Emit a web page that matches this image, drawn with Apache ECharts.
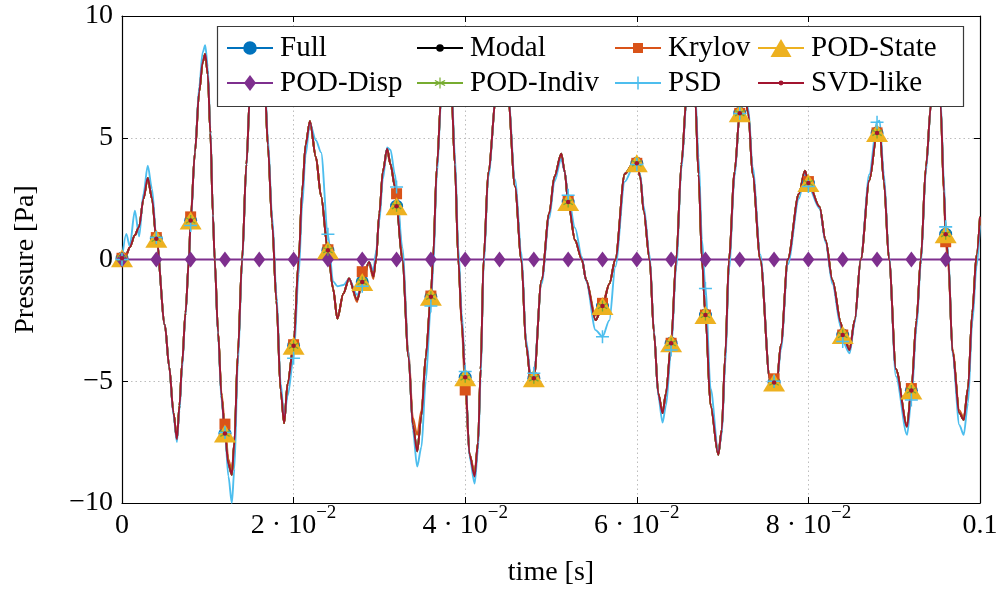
<!DOCTYPE html>
<html>
<head>
<meta charset="utf-8">
<script src="https://cdn.jsdelivr.net/npm/echarts@6/dist/echarts.min.js"></script>
<style>html,body{margin:0;padding:0;background:#fff}#c{width:1001px;height:592px}</style>
</head>
<body>
<div id="c"></div>
<script>
// ---- data ----
const time = [
  0, 0.0005, 0.0009, 0.0015, 0.002, 0.0025, 0.003, 0.0035, 0.004, 0.005,
  0.0055, 0.006, 0.0064, 0.0067, 0.007, 0.0074, 0.0078, 0.008, 0.0085, 0.009,
  0.0094, 0.0097, 0.01, 0.0103, 0.0106, 0.0108, 0.0112, 0.0116, 0.012, 0.0124,
  0.0128, 0.0131, 0.0135, 0.014, 0.0145, 0.0149, 0.0154, 0.0158, 0.016, 0.0163,
  0.0167, 0.017, 0.0175, 0.018, 0.0185, 0.0189, 0.0193, 0.02, 0.0206, 0.021,
  0.0214, 0.0219, 0.0226, 0.0232, 0.024, 0.0246, 0.0251, 0.0258, 0.02646, 0.0274,
  0.028, 0.0288, 0.0293, 0.0296, 0.03, 0.0304, 0.0309, 0.0313, 0.0318, 0.032,
  0.03267, 0.0334, 0.0339, 0.0344, 0.0349, 0.0354, 0.036, 0.03625, 0.0367, 0.0372,
  0.0378, 0.0384, 0.0388, 0.0392, 0.0396, 0.04, 0.0405, 0.0411, 0.0415, 0.0418,
  0.04215, 0.0427, 0.0436, 0.044, 0.0444, 0.045, 0.0458, 0.04655, 0.0471, 0.0477,
  0.048, 0.0489, 0.0498, 0.0504, 0.0512, 0.0516, 0.052, 0.0528, 0.0536, 0.0541,
  0.0552, 0.056, 0.0568, 0.0575, 0.0586, 0.0597, 0.06, 0.0604, 0.0608, 0.0615,
  0.062, 0.0625, 0.063, 0.0634, 0.064, 0.0646, 0.0652, 0.0658, 0.0663, 0.0668,
  0.0672, 0.0676, 0.068, 0.0686, 0.0695, 0.0699, 0.0703, 0.07075, 0.0714, 0.072,
  0.0725, 0.073, 0.0735, 0.0744, 0.0755, 0.076, 0.0763, 0.0768, 0.0776, 0.0789,
  0.0796, 0.08, 0.0813, 0.082, 0.0828, 0.0838, 0.084, 0.0848, 0.0854, 0.0861,
  0.0871, 0.088, 0.0883, 0.0888, 0.0894, 0.0902, 0.0915, 0.092, 0.0926, 0.0931,
  0.0937, 0.0943, 0.0949, 0.0954, 0.0958, 0.096, 0.0963, 0.0968, 0.0976, 0.0981,
  0.0986, 0.0991, 0.0996, 0.1
];
const full = [
  0.05, 0.2, 0.5, 1.0, 1.35, 2.5, 3.35, 2.5, 0.85, -2.7,
  -4.4, -6.3, -7.38, -6.0, -4.3, -2.2, 0, 1.6, 4.4, 6.9,
  8.1, 8.44, 7.6, 5.2, 1.8, 0, -3.0, -5.6, -7.15, -8.4,
  -8.84, -7.5, -3.9, 0, 3.9, 6.7, 8.6, 9.0, 8.9, 8.2,
  6.67, 4.7, 1.5, -1.7, -5.4, -6.72, -5.1, -3.54, 0, 2.8,
  4.7, 5.68, 4.2, 2.6, 0.38, -1.2, -2.43, -1.4, -0.78, -1.67,
  -0.92, -0.1, -0.71, 0, 1.9, 3.6, 4.55, 3.9, 3.0, 2.19,
  0, -4.0, -6.8, -7.88, -6.4, -4.0, -1.53, 0, 3.8, 6.67,
  8.6, 6.9, 3.9, 0, -2.6, -4.84, -8.0, -8.9, -7.5, -4.5,
  0, 3.6, 6.67, 8.0, 8.2, 6.67, 3.0, 0, -3.5, -5.15,
  -4.88, -0.85, 1.9, 3.4, 4.34, 3.6, 2.36, 0.79, 0, -0.85,
  -2.49, -1.91, -1.0, 0, 3.52, 4.0, 3.95, 3.4, 2.0, 0,
  -3.0, -5.5, -6.31, -5.5, -3.44, 0, 3.9, 6.67, 7.8, 6.67,
  3.5, 0, -2.28, -6.0, -8.02, -7.0, -4.0, 0, 3.6, 6.01,
  6.9, 6.0, 3.5, 0, -4.9, -5.05, -5.1, -3.5, 0, 2.7,
  3.65, 3.14, 2.16, 0.79, -0.85, -2.62, -3.1, -3.72, -2.49, 0,
  3.25, 5.2, 5.35, 3.2, 0, -4.5, -6.86, -5.38, -2.5, 0,
  3.8, 6.4, 7.3, 6.4, 2.8, 1.04, 0, -3.8, -6.3, -6.58,
  -5.3, -2.2, 0.2, 1.75
];
const psd = [
  0, 1.05, 0.55, 2.0, 0.95, 2.7, 3.85, 2.9, 0.9, -2.7,
  -4.4, -6.4, -7.5, -6.2, -4.5, -2.3, 0, 1.4, 4.4, 7.1,
  8.5, 8.8, 7.9, 5.4, 1.9, 0, -3.1, -5.8, -7.1, -8.9,
  -10.0, -8.6, -4.3, -0.2, 3.8, 6.7, 8.8, 9.2, 9.1, 8.4,
  6.9, 5.0, 1.8, -1.4, -5.1, -6.5, -5.6, -4.06, -0.6, 2.2,
  4.3, 5.6, 4.9, 4.4, 1.04, -0.9, -1.1, -1.05, -0.8, -1.45,
  -1.1, -0.1, -0.45, 0.3, 1.6, 3.3, 4.6, 4.5, 3.5, 2.98,
  0.5, -3.8, -7.0, -8.5, -7.7, -5.0, -1.91, -0.5, 3.5, 6.5,
  8.7, 7.2, 4.3, 0.5, -2.2, -4.6, -8.1, -9.2, -7.8, -4.9,
  -0.3, 3.4, 6.7, 8.0, 8.3, 6.8, 3.3, 0.3, -3.3, -4.95,
  -4.67, -1.0, 1.7, 3.2, 4.14, 3.6, 2.64, 1.3, 0.1, -0.9,
  -2.9, -3.17, -2.5, -0.3, 3.2, 3.9, 3.9, 3.5, 2.2, 0.2,
  -2.9, -5.6, -6.7, -6.0, -3.72, -0.3, 3.7, 6.5, 7.8, 6.9,
  4.2, 0.8, -1.19, -5.3, -7.9, -7.2, -4.4, -0.4, 3.4, 6.0,
  6.9, 6.2, 3.8, 0.2, -4.9, -5.0, -5.2, -3.7, -0.2, 2.5,
  3.5, 3.0, 2.1, 0.7, -1.0, -2.8, -3.37, -3.85, -2.6, 0,
  3.5, 5.64, 5.7, 3.5, 0.1, -4.8, -7.2, -5.77, -2.8, -0.2,
  3.6, 6.4, 7.4, 6.6, 3.2, 1.34, 0.3, -3.9, -6.8, -7.2,
  -5.9, -2.6, -0.3, 1.4
];
const krylov = [
  0.05, 0.2, 0.5, 1.0, 1.35, 2.5, 3.35, 2.5, 0.9, -2.7,
  -4.4, -6.3, -7.38, -6.0, -4.3, -2.2, 0, 1.75, 4.4, 6.9,
  8.1, 8.44, 7.6, 5.2, 1.8, 0, -3.0, -5.5, -6.76, -8.2,
  -8.7, -7.5, -3.9, 0, 3.9, 6.7, 8.6, 9.0, 8.9, 8.2,
  6.67, 4.7, 1.5, -1.7, -5.4, -6.72, -5.1, -3.5, 0, 2.8,
  4.7, 5.68, 4.2, 2.6, 0.4, -1.2, -2.43, -1.4, -0.78, -1.75,
  -0.5, -0.2, -0.8, 0, 1.9, 3.6, 4.4, 3.9, 3.1, 2.7,
  0.2, -3.8, -6.5, -7.2, -6.2, -4.0, -1.5, 0, 3.8, 6.67,
  8.6, 6.9, 3.9, 0, -2.8, -5.36, -8.0, -8.7, -7.5, -4.5,
  0, 3.6, 6.67, 8.0, 8.2, 6.67, 3.0, 0, -3.5, -5.1,
  -4.9, -0.85, 1.9, 3.4, 4.3, 3.6, 2.4, 0.79, 0, -0.85,
  -2.3, -1.8, -1.0, 0, 3.52, 4.0, 3.95, 3.4, 2.0, 0,
  -3.0, -5.5, -6.3, -5.5, -3.44, 0, 3.9, 6.67, 7.8, 6.67,
  3.5, 0, -2.28, -6.0, -7.9, -7.0, -4.0, 0, 3.6, 6.0,
  6.9, 6.0, 3.5, 0, -4.9, -4.9, -5.0, -3.5, 0, 2.7,
  3.65, 3.2, 2.16, 0.79, -0.85, -2.6, -3.1, -3.6, -2.5, 0,
  3.25, 5.2, 5.35, 3.2, 0, -4.5, -6.8, -5.3, -2.5, 0,
  3.8, 6.4, 7.3, 6.4, 2.6, 0.73, -0.3, -3.7, -6.2, -6.5,
  -5.3, -2.2, 0.2, 1.75
];
// read as indistinguishable from Full at this resolution
const modal = full;
const podState = full;
const podIndiv = full;
const svdLike = full;
const podDispTime = [0, 0.004, 0.008, 0.012, 0.016, 0.02, 0.024, 0.028, 0.032, 0.036, 0.04, 0.044, 0.048,
  0.052, 0.056, 0.06, 0.064, 0.068, 0.072, 0.076, 0.08, 0.084, 0.088, 0.092, 0.096, 0.1];
const podDisp = [0, 0, 0, 0, 0, 0, 0, 0, 0, 0, 0, 0, 0, 0, 0, 0, 0, 0, 0, 0, 0, 0, 0, 0, 0, 0];
const yTicks = [-10, -5, 0, 5, 10];
const xTicks = [0, 0.02, 0.04, 0.06, 0.08, 0.1];

// ---- styling ----
const FONT = '"Liberation Serif", "DejaVu Serif", serif';
const FS = 28;
const C = {
  full: '#0072BD', modal: '#000000', krylov: '#D95319', podState: '#EDB120',
  podDisp: '#7E2F8E', podIndiv: '#77AC30', psd: '#4DBEEE', svd: '#A2142F'
};
const PLUS = 'path://M-0.7,-6 L0.7,-6 L0.7,-0.7 L6,-0.7 L6,0.7 L0.7,0.7 L0.7,6 L-0.7,6 L-0.7,0.7 L-6,0.7 L-6,-0.7 L-0.7,-0.7 Z';
const AST = 'path://M-0.6,-5 L0.6,-5 L0.6,5 L-0.6,5 Z M4.03,-3.02 L4.63,-1.98 L-4.03,3.02 L-4.63,1.98 Z M-4.63,-1.98 L-4.03,-3.02 L4.63,1.98 L4.03,3.02 Z';

function isMark(t) {
  const k = t / 0.004;
  return Math.abs(k - Math.round(k)) < 1e-6 && t < 0.0999;
}
function mk(name, xs, ys, color, symbol, size) {
  return {
    type: 'line', name,
    data: xs.map((t, i) => ({ value: [t, ys[i]], symbol: isMark(t) ? symbol : 'none', symbolSize: size })),
    symbol, symbolSize: size, showSymbol: true, showAllSymbol: true, symbolKeepAspect: false,
    smooth: 0.3, smoothMonotone: 'x',
    lineStyle: { color, width: 1.9 },
    itemStyle: { color, borderWidth: 0 },
    emphasis: { disabled: true },
    animation: false, clip: true, z: 2
  };
}

// legend icons: line + marker in a 46x20 box (all sub-paths clockwise)
const LW = 46, LH = 20;
const anchor = ' M0,0 L0.01,0 L0.01,0.01 Z M46,20 L45.99,20 L45.99,19.99 Z';
const line = 'M0,9.1 L46,9.1 L46,10.9 L0,10.9 Z';
function circ(r) { return ` M${23 - r},10 A${r},${r} 0 1,1 ${23 + r},10 A${r},${r} 0 1,1 ${23 - r},10 Z`; }
const ICON = {
  'Full': 'path://' + line + circ(6.8) + anchor,
  'Modal': 'path://' + line + circ(3.8) + anchor,
  'Krylov': 'path://' + line + ' M18,5 L28,5 L28,15 L18,15 Z' + anchor,
  'POD-State': 'path://' + line + ' M12.5,19 L23,1 L33.5,19 Z' + anchor,
  'POD-Disp': 'path://' + line + ' M23,2 L29,10 L23,18 L17,10 Z' + anchor,
  'POD-Indiv': 'path://' + line + ' M22.4,4.5 L23.6,4.5 L23.6,15.5 L22.4,15.5 Z M27.8,6.9 L28.4,8 L18.2,13.1 L17.6,12 Z M17.6,8 L18.2,6.9 L28.4,12 L27.8,13.1 Z' + anchor,
  'PSD': 'path://' + line + ' M22.25,3.5 L23.75,3.5 L23.75,16.5 L22.25,16.5 Z' + anchor,
  'SVD-like': 'path://' + line + circ(2.4) + anchor
};
function legendCol(left, names) {
  return {
    orient: 'vertical', left, top: 33, padding: 0, itemGap: 5,
    itemWidth: LW, itemHeight: LH,
    data: names.map(n => ({ name: n, icon: ICON[n] })),
    itemStyle: { borderWidth: 0 },
    textStyle: { fontFamily: FONT, fontSize: 29, color: '#000', lineHeight: 30, padding: [0, 0, 0, 2] },
    selectedMode: false, z: 5
  };
}

const chart = echarts.init(document.getElementById('c'), null, { renderer: 'canvas' });
const axisCommon = {
  min: -10, max: 10, interval: 5, type: 'value'
};
chart.setOption({
  backgroundColor: '#fff',
  animation: false,
  grid: { left: 122, right: 21, top: 16, bottom: 88, containLabel: false },
  graphic: [{
    type: 'rect', z: 3,
    shape: { x: 217.5, y: 26.5, width: 746, height: 80 },
    style: { fill: '#fff', stroke: '#3a3a3a', lineWidth: 1.2 }
  }],
  legend: [
    legendCol(227, ['Full', 'POD-Disp']),
    legendCol(417, ['Modal', 'POD-Indiv']),
    legendCol(615, ['Krylov', 'PSD']),
    legendCol(758, ['POD-State', 'SVD-like'])
  ],
  xAxis: [{
    type: 'value', min: xTicks[0], max: xTicks[xTicks.length - 1], interval: 0.02,
    name: 'time [s]', nameLocation: 'middle', nameGap: 56,
    nameTextStyle: { fontFamily: FONT, fontSize: FS, color: '#000' },
    axisLine: { show: true, onZero: false, lineStyle: { color: '#000', width: 1.2 } },
    axisTick: { show: true, inside: true, length: 6, lineStyle: { color: '#000', width: 1 } },
    splitLine: { show: true, lineStyle: { color: '#bdbdbd', type: [1.5, 3], width: 1 } },
    axisLabel: {
      margin: 1,
      formatter: v => {
        const k = Math.round(v * 100);
        if (k === 0) return '{b|0}';
        if (k === 10) return '{b|0.1}';
        return '{b|' + k + ' · 10}{s|−2}';
      },
      rich: {
        b: { fontFamily: FONT, fontSize: FS, color: '#000', lineHeight: 36, verticalAlign: 'bottom' },
        s: { fontFamily: FONT, fontSize: 19, color: '#000', lineHeight: 18, verticalAlign: 'top' }
      }
    }
  }, {
    type: 'value', position: 'top', min: 0, max: 0.1, interval: 0.02,
    axisLine: { show: true, onZero: false, lineStyle: { color: '#000', width: 1.2 } },
    axisTick: { show: true, inside: true, length: 6, lineStyle: { color: '#000', width: 1 } },
    axisLabel: { show: false }, splitLine: { show: false }
  }],
  yAxis: [{
    ...axisCommon,
    name: 'Pressure [Pa]', nameLocation: 'middle', nameGap: 82, nameRotate: 90,
    nameTextStyle: { fontFamily: FONT, fontSize: FS, color: '#000' },
    axisLine: { show: true, onZero: false, lineStyle: { color: '#000', width: 1.2 } },
    axisTick: { show: true, inside: true, length: 6, lineStyle: { color: '#000', width: 1 } },
    splitLine: { show: true, lineStyle: { color: '#bdbdbd', type: [1.5, 3], width: 1 } },
    axisLabel: {
      margin: 9, fontFamily: FONT, fontSize: FS, color: '#000',
      formatter: v => (yTicks.includes(v) ? (v < 0 ? '−' + Math.abs(v) : String(v)) : '')
    }
  }, {
    ...axisCommon, position: 'right',
    axisLine: { show: true, onZero: false, lineStyle: { color: '#000', width: 1.2 } },
    axisTick: { show: true, inside: true, length: 6, lineStyle: { color: '#000', width: 1 } },
    axisLabel: { show: false }, splitLine: { show: false }
  }],
  series: [
    mk('Full', time, full, C.full, 'circle', 13),
    mk('Modal', time, modal, C.modal, 'circle', 7),
    mk('Krylov', time, krylov, C.krylov, 'rect', 11),
    mk('POD-State', time, podState, C.podState, 'triangle', [22, 18]),
    mk('POD-Disp', podDispTime, podDisp, C.podDisp, 'diamond', [12, 16]),
    mk('POD-Indiv', time, podIndiv, C.podIndiv, AST, [10, 11]),
    mk('PSD', time, psd, C.psd, PLUS, 13),
    mk('SVD-like', time, svdLike, C.svd, 'circle', 4.5)
  ]
});
</script>
</body>
</html>
